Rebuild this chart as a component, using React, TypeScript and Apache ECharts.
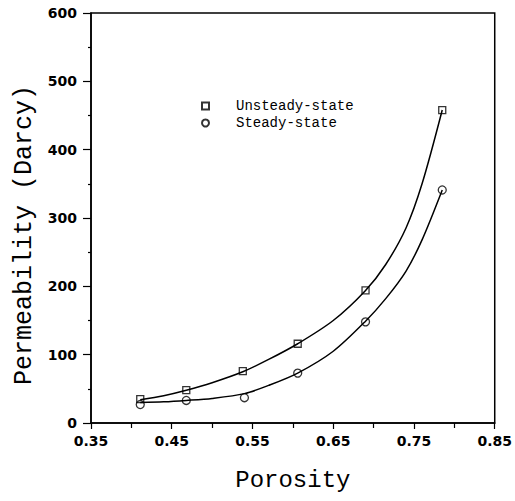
import React, { useEffect, useRef } from "react";
import * as echarts from "echarts";

const unsteadyX = [0.411, 0.468, 0.538, 0.606, 0.690, 0.785];
const unsteadyY = [35, 48, 76, 116, 194, 458];
const steadyX = [0.411, 0.468, 0.540, 0.606, 0.690, 0.785];
const steadyY = [27, 33, 37, 73, 148, 341];

// Fitted curves
const unsteadyCurveX = [0.411, 0.44, 0.468, 0.50, 0.538, 0.57, 0.606, 0.65, 0.690, 0.715, 0.740, 0.76, 0.785];
const unsteadyCurveY = [34, 40, 48, 59, 75, 93, 116, 150, 194, 232, 285, 350, 458];
const steadyCurveX = [0.411, 0.44, 0.468, 0.50, 0.540, 0.57, 0.606, 0.65, 0.690, 0.715, 0.740, 0.76, 0.785];
const steadyCurveY = [30, 31, 33, 36, 43, 55, 73, 105, 149, 182, 222, 268, 341];

const seriesNames = ["Unsteady-state", "Steady-state"];
const xTitle = "Porosity";
const yTitle = "Permeability (Darcy)";

const zip = (xs: number[], ys: number[]) => xs.map((x, i) => [x, ys[i]]);

export default function App() {
  const ref = useRef<HTMLDivElement>(null);
  useEffect(() => {
    if (!ref.current) return;
    const chart = echarts.init(ref.current, undefined, { renderer: "svg" });
    const tickFont = { fontFamily: "DejaVu Sans", fontWeight: "bold" as const, fontSize: 14, color: "#000" };
    chart.setOption({
      animation: false,
      backgroundColor: "#fff",
      grid: {
        left: 91,
        right: 13,
        top: 13,
        bottom: 78,
        show: true,
        borderColor: "#000",
        borderWidth: 1.5,
        backgroundColor: "transparent",
      },
      legend: {
        orient: "vertical",
        left: 196,
        top: 94,
        itemWidth: 7,
        itemHeight: 7,
        itemGap: 3,
        selectedMode: false,
        data: [
          { name: seriesNames[0], icon: "rect" },
          { name: seriesNames[1], icon: "circle" },
        ],
        textStyle: {
          fontFamily: "Liberation Mono",
          fontSize: 14,
          color: "#000",
          padding: [0, 0, 0, 22],
        },
      },
      xAxis: {
        type: "value",
        min: 0.35,
        max: 0.85,
        interval: 0.1,
        name: xTitle,
        nameLocation: "middle",
        nameGap: 45,
        nameTextStyle: { fontFamily: "Liberation Mono", fontSize: 24, color: "#000" },
        axisLine: { show: true, lineStyle: { color: "#000", width: 1.5 } },
        axisTick: { show: true, length: 6, lineStyle: { color: "#000", width: 1.2 } },
        minorTick: { show: true, splitNumber: 2, length: 5, lineStyle: { color: "#000", width: 1.2 } },
        splitLine: { show: false },
        axisLabel: { ...tickFont, margin: 11, formatter: (v: number) => v.toFixed(2) },
      },
      yAxis: {
        type: "value",
        min: 0,
        max: 600,
        interval: 100,
        name: yTitle,
        nameLocation: "middle",
        nameGap: 50,
        nameTextStyle: {
          fontFamily: "Liberation Mono",
          fontSize: 25,
          color: "#000",
          padding: [0, 34, 0, 0],
        },
        axisLine: { show: true, lineStyle: { color: "#000", width: 1.5 } },
        axisTick: { show: true, length: 8, lineStyle: { color: "#000", width: 1.2 } },
        minorTick: { show: true, splitNumber: 2, length: 3, lineStyle: { color: "#000", width: 1.2 } },
        splitLine: { show: false },
        axisLabel: { ...tickFont, margin: 14 },
      },
      series: [
        {
          name: seriesNames[0] + " fit",
          type: "line",
          data: zip(unsteadyCurveX, unsteadyCurveY),
          smooth: 0.3,
          showSymbol: false,
          symbol: "none",
          lineStyle: { color: "#000", width: 1.5 },
          z: 2,
        },
        {
          name: seriesNames[1] + " fit",
          type: "line",
          data: zip(steadyCurveX, steadyCurveY),
          smooth: 0.3,
          showSymbol: false,
          symbol: "none",
          lineStyle: { color: "#000", width: 1.5 },
          z: 2,
        },
        {
          name: seriesNames[0],
          type: "scatter",
          symbol: "rect",
          symbolSize: 7,
          data: zip(unsteadyX, unsteadyY),
          itemStyle: { color: "rgba(255,255,255,0)", borderColor: "#000", borderWidth: 1.3 },
          z: 3,
        },
        {
          name: seriesNames[1],
          type: "scatter",
          symbol: "circle",
          symbolSize: 8,
          data: zip(steadyX, steadyY),
          itemStyle: { color: "rgba(255,255,255,0)", borderColor: "#000", borderWidth: 1.3 },
          z: 3,
        },
      ],
    });
    return () => chart.dispose();
  }, []);
  return (
    <div
      ref={ref}
      style={{ position: "fixed", left: 0, top: 0, width: 515, height: 501, background: "#fff" }}
    />
  );
}
